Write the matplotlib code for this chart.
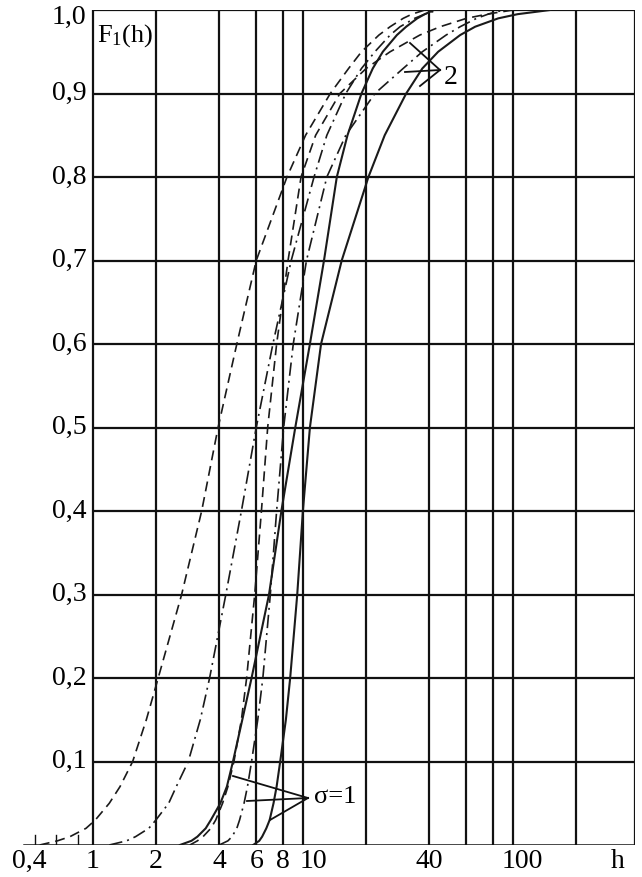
import matplotlib
matplotlib.use("Agg")
import matplotlib.pyplot as plt
from matplotlib.transforms import offset_copy

plt.rcParams['font.family'] = ['Liberation Serif', 'DejaVu Serif']
plt.rcParams['mathtext.fontset'] = 'custom'
plt.rcParams['mathtext.rm'] = 'Liberation Serif'
plt.rcParams['mathtext.it'] = 'Liberation Serif'

# ---- data (h at given F1 levels) ----
F_levels = [0.0, 0.005, 0.01, 0.02, 0.03, 0.05, 0.07, 0.1, 0.15, 0.2, 0.3, 0.4,
            0.5, 0.6, 0.7, 0.8, 0.85, 0.9, 0.93, 0.95, 0.97, 0.98, 0.99, 0.995, 1.0]

h_dashed_a  = [0.56, 0.68, 0.78, 0.93, 1.03, 1.2, 1.35, 1.55, 1.8, 2.05, 2.65, 3.3,
               3.95, 4.85, 6.0, 8.4, 10.3, 13.5, 16.5, 19, 23, 26, 30, 33, 38]
h_dashdot_b = [1.2, 1.45, 1.6, 1.85, 2.0, 2.3, 2.5, 2.85, 3.25, 3.6, 4.3, 5.1,
               6.0, 7.2, 8.8, 11.3, 13.0, 16, 19, 22, 26, 29, 34, 38, 44]
h_dashed_c  = [2.9, 3.15, 3.35, 3.65, 3.85, 4.15, 4.4, 4.7, 5.1, 5.4, 5.9, 6.35,
               6.8, 7.5, 8.5, 9.8, 11.5, 15, 20, 26, 36, 45, 60, 75, 100]
h_solid_x   = [2.6, 2.95, 3.15, 3.45, 3.65, 4.05, 4.35, 4.65, 5.15, 5.7, 6.9, 7.9,
               9.2, 10.8, 12.6, 14.5, 16.3, 19, 21.5, 24, 28, 31, 35, 38, 42]
h_dashdot_d = [4.0, 4.4, 4.6, 4.85, 5.0, 5.25, 5.45, 5.7, 6.1, 6.45, 7.0, 7.5,
               8.1, 9.0, 10.4, 13.0, 16, 22, 30, 37, 48, 56, 67, 76, 90]
h_solid_y   = [5.8, 6.2, 6.4, 6.7, 6.95, 7.25, 7.5, 7.8, 8.3, 8.7, 9.4, 10.0,
               10.8, 12.2, 15.3, 20.5, 24.5, 31, 37, 44, 56, 66, 85, 105, 150]

x_grid = [1, 2, 4, 6, 8, 10, 20, 40, 60, 80, 100, 200]
x_right = 380
x_left = 0.4
y_grid = [0.1, 0.2, 0.3, 0.4, 0.5, 0.6, 0.7, 0.8, 0.9, 1.0]
y_labels = ['0,1', '0,2', '0,3', '0,4', '0,5', '0,6', '0,7', '0,8', '0,9', '1,0']
x_tick_vals = [0.4, 1, 2, 4, 6, 8, 10, 40, 100]
x_tick_labels = ['0,4', '1', '2', '4', '6', '8', '10', '40', '100']
x_small_ticks = [0.53, 0.67, 0.85]

# ---- figure ----
W, H = 642, 877
fig = plt.figure(figsize=(W / 100, H / 100), dpi=100)
ax = fig.add_axes([9 / W, 32 / H, (635 - 9) / W, 835 / H])
ax.set_xscale('log')
ax.set_xlim(x_left, x_right)
ax.set_ylim(0, 1)
ax.set_axis_off()

gk = dict(color='#111111', lw=1.6, solid_capstyle='butt', zorder=1)
for xv in x_grid + [x_right]:
    ax.plot([xv, xv], [0, 1], **gk)
for yv in y_grid:
    ax.plot([1, x_right], [yv, yv], **gk)
ax.plot([0.47, x_right], [0, 0], color='#111111', lw=1.8, zorder=1)
for xv in x_small_ticks:
    ax.plot([xv, xv], [0, 0.012], color='#111111', lw=1.0, zorder=1)

ck = dict(color='#1a1a1a', zorder=3, solid_joinstyle='round')
dash = (0, (6, 3.5))
dashdot = (0, (8, 3, 1.2, 3))
ax.plot(h_dashed_a, F_levels, ls=dash, lw=1.2, **ck)
ax.plot(h_dashdot_b, F_levels, ls=dashdot, lw=1.2, **ck)
ax.plot(h_dashed_c, F_levels, ls=dash, lw=1.2, **ck)
ax.plot(h_solid_x, F_levels, ls='-', lw=1.5, **ck)
ax.plot(h_dashdot_d, F_levels, ls=dashdot, lw=1.2, **ck)
ax.plot(h_solid_y, F_levels, ls='-', lw=1.5, **ck)

# y tick labels (left of the h = 1 line)
for yv, lab in zip(y_grid, y_labels):
    dy = -7 if yv == 1.0 else 0
    t = offset_copy(ax.transData, fig=fig, x=-6, y=dy, units='dots')
    ax.text(1, yv, lab, transform=t, ha='right', va='center', fontsize=20)

# x tick labels
x_off = {0.4: 20, 10: 11, 100: 9}
for xv, lab in zip(x_tick_vals, x_tick_labels):
    t = offset_copy(ax.transData, fig=fig, x=x_off.get(xv, 0), y=-4, units='dots')
    ax.text(xv, 0, lab, transform=t, ha='center', va='top', fontsize=20)
fig.text(618 / W, 1 - 849 / H, 'h', ha='center', va='top', fontsize=20)

# F1(h) label
fig.text(97 / W, 1 - 36 / H, r'F$_{1}$(h)', ha='left', va='center', fontsize=19)

# sigma = 1 annotation
ak = dict(color='#111111', lw=1.3, zorder=4)
tip1 = (308, 798)
for end in [(233, 776), (247, 801), (270, 820)]:
    fig.add_artist(plt.Line2D([tip1[0] / W, end[0] / W],
                              [1 - tip1[1] / H, 1 - end[1] / H],
                              transform=fig.transFigure, **ak))
fig.text(314 / W, 1 - 797 / H, 'σ=1', ha='left', va='center', fontsize=19)

# sigma = 2 annotation
tip2 = (440, 70)
for end in [(410, 43), (405, 72), (420, 86)]:
    fig.add_artist(plt.Line2D([tip2[0] / W, end[0] / W],
                              [1 - tip2[1] / H, 1 - end[1] / H],
                              transform=fig.transFigure, **ak))
fig.text(444 / W, 1 - 78 / H, '2', ha='left', va='center', fontsize=20)

fig.savefig('out.png', dpi=100)
